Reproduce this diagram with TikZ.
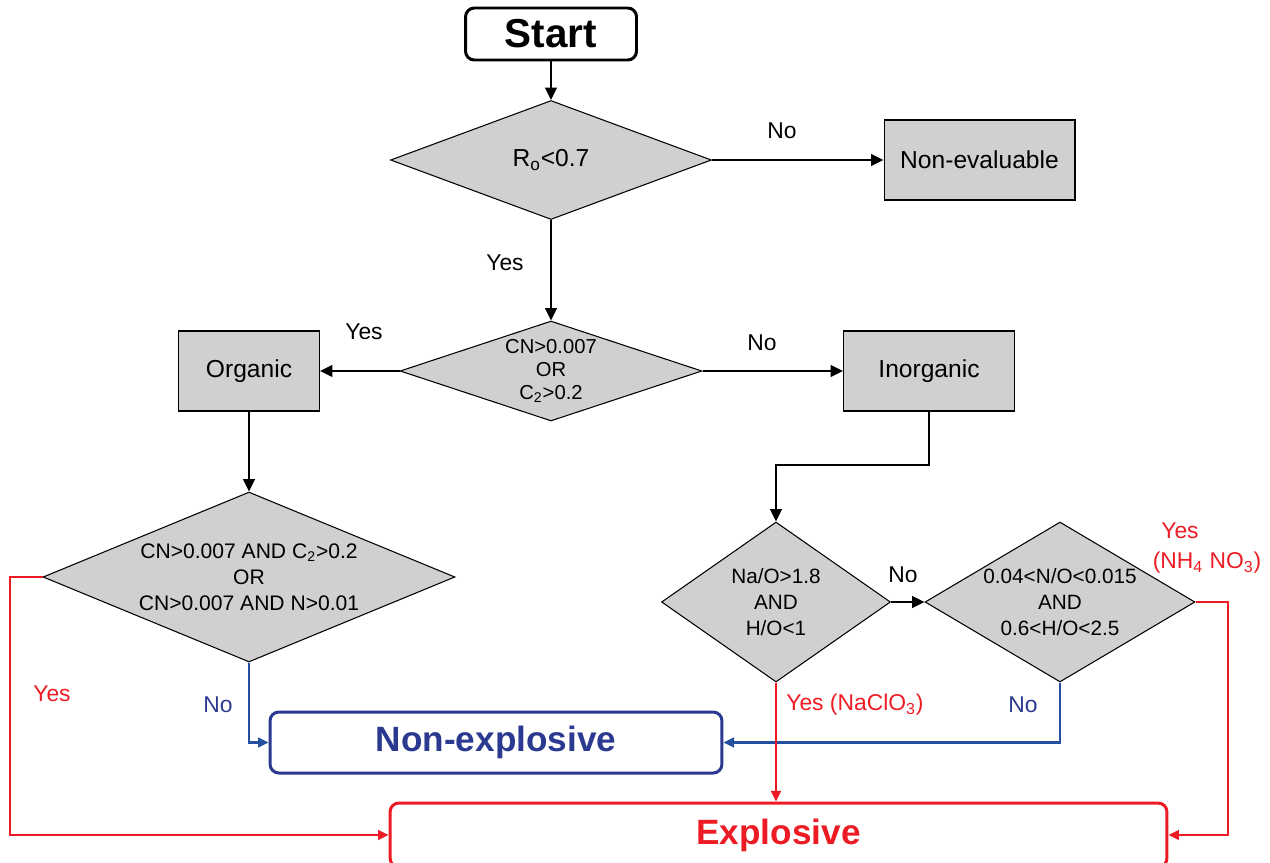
\documentclass[tikz,border=0pt]{standalone}
\usepackage{fontspec}
\setmainfont{Liberation Sans}
\usetikzlibrary{shapes.geometric,arrows.meta}
\definecolor{gr}{RGB}{208,208,208}
\definecolor{rd}{RGB}{237,28,36}
\definecolor{bl}{RGB}{43,57,144}
\definecolor{bll}{RGB}{35,80,160}
\begin{document}
\begin{tikzpicture}[x=0.02cm,y=-0.02cm,
  dec/.style={diamond, draw, fill=gr, line width=0.6pt, inner sep=0pt, align=center},
  proc/.style={rectangle, draw, fill=gr, line width=0.6pt, inner sep=0pt, minimum height=1.6cm, font=\fontsize{14}{17}\selectfont},
  term/.style={rectangle, rounded corners=5pt, draw, line width=1.7pt, fill=white, inner sep=0pt},
  conn/.style={line width=1.4pt, -{Triangle[length=7pt,width=6.5pt]}},
  rconn/.style={line width=1.3pt, draw=rd, -{Triangle[length=6pt,width=5.5pt]}},
  bconn/.style={line width=1.3pt, draw=bll, -{Triangle[length=6pt,width=5.5pt]}},
  lab/.style={font=\fontsize{13}{15}\selectfont},
  dtext/.style={font=\fontsize{11.8}{14.6}\selectfont}
]
\useasboundingbox (0,0) rectangle (1270,862);
\clip (0,0) rectangle (1270,862);

% nodes
\node[term, minimum width=3.42cm, minimum height=1.04cm, font=\bfseries\fontsize{23}{26}\selectfont] (start) at (551,34) {Start};
\node[dec, aspect=2.7, minimum width=6.42cm, minimum height=2.38cm, font=\fontsize{14}{17}\selectfont] (d1) at (551,160) {R\textsubscript{o}<0.7};
\node[proc, minimum width=3.82cm] (noneval) at (979.5,160) {Non-evaluable};
\node[dec, aspect=3.02, minimum width=6.04cm, minimum height=2.0cm, font=\fontsize{11.5}{13}\selectfont] (d2) at (551,371) {CN>0.007\\OR\\C\textsubscript{2}>0.2};
\node[proc, minimum width=2.82cm] (organic) at (249,371) {Organic};
\node[proc, minimum width=3.42cm] (inorganic) at (929,371) {Inorganic};
\node[dec, aspect=2.42, minimum width=8.24cm, minimum height=3.4cm, font=\fontsize{12}{14.7}\selectfont] (d3) at (249,577) {CN>0.007 AND C\textsubscript{2}>0.2\\OR\\CN>0.007 AND N>0.01};
\node[dec, dtext, aspect=1.43, minimum width=4.58cm, minimum height=3.2cm] (d4) at (776,602) {Na/O>1.8\\AND\\H/O<1};
\node[dec, dtext, aspect=1.69, minimum width=5.4cm, minimum height=3.2cm] (d5) at (1060,602) {0.04<N/O<0.015\\AND\\0.6<H/O<2.5};
\node[term, draw=bl, minimum width=9.04cm, minimum height=1.22cm, text=bl, font=\bfseries\fontsize{20}{24}\selectfont] (nonexp) at (496,742.5) {Non-explosive};
\node[term, draw=rd, minimum width=15.54cm, minimum height=1.28cm, text=rd, font=\bfseries\fontsize{20}{24}\selectfont] (exp) at (778.5,835) {Explosive};

\coordinate (c1) at (929,465);
\coordinate (c2) at (1228,602);
\coordinate (c3) at (10,577);

% connectors
\draw[conn] (start) -- (d1);
\draw[conn] (d1.east) -- (noneval.west);
\draw[conn] (d1.south) -- (d2.north);
\draw[conn] (d2.west) -- (organic.east);
\draw[conn] (d2.east) -- (inorganic.west);
\draw[conn] (organic.south) -- (d3.north);
\draw[conn] (inorganic.south) -- (c1) -| (d4.north);
\draw[conn] (d4.east) -- (d5.west);
\draw[rconn] (d5.east) -- (c2) |- (exp.east);
\draw[bconn] (d5.south) |- (nonexp.east);
\draw[rconn] (d4.south) -- (d4.south |- exp.north);
\draw[bconn] (d3.south) |- (nonexp.west);
\draw[rconn] (d3.west) -- (c3) |- (exp.west);

% labels
\node[lab] (l1) at (782,131) {No};
\node[lab] (l2) at (505,263) {Yes};
\node[lab] (l3) at (364,332) {Yes};
\node[lab] (l4) at (762,343) {No};
\node[lab] (l5) at (903,575) {No};
\node[lab, text=rd] (l6) at (52,694) {Yes};
\node[lab, text=bl] (l7) at (218,705) {No};
\node[lab, text=rd, anchor=west, inner sep=0pt] (l8) at (786,705) {Yes (NaClO\textsubscript{3})};
\node[lab, text=bl] (l9) at (1023,705) {No};
\node[lab, text=rd] (l10) at (1180,531) {Yes};
\node[lab, text=rd] (l11) at (1207,563) {(NH\textsubscript{4} NO\textsubscript{3})};
\end{tikzpicture}
\end{document}
